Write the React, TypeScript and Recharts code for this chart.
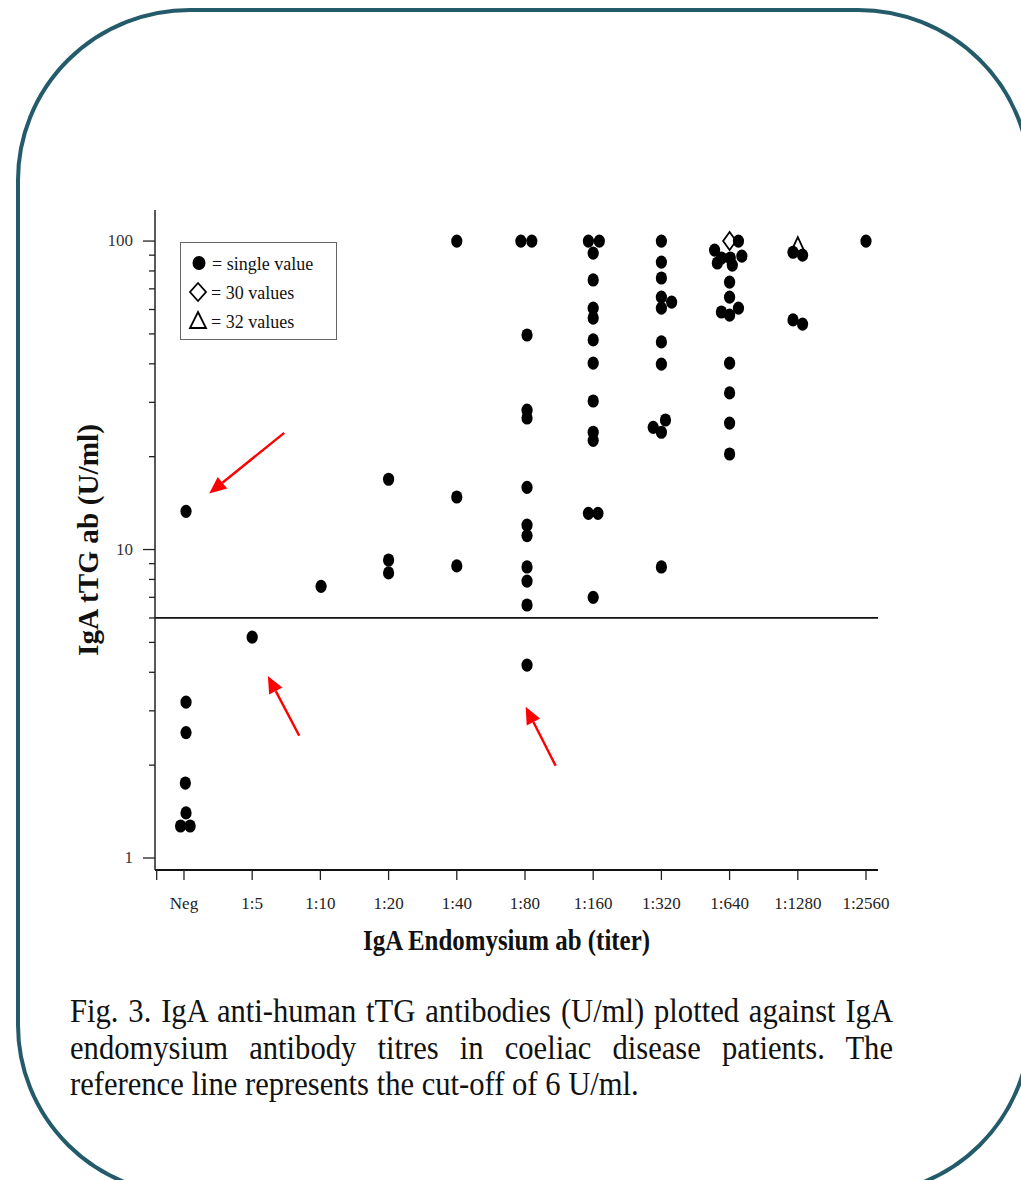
import React from "react";
import { ScatterChart, Scatter, XAxis, YAxis, ReferenceLine, Legend, Label } from "recharts";

const titers = ["Neg", "1:5", "1:10", "1:20", "1:40", "1:80", "1:160", "1:320", "1:640", "1:1280", "1:2560"];

// each entry: [tTG U/ml, small horizontal jitter in titer units]
const negVals = [[13.3, 0.03], [3.2, 0.03], [2.55, 0.03], [1.75, 0.02], [1.4, 0.03], [1.27, -0.05], [1.27, 0.09]];
const t5Vals = [[5.2, 0]];
const t10Vals = [[7.6, 0.01]];
const t20Vals = [[16.9, 0], [9.25, 0], [8.4, 0]];
const t40Vals = [[100, 0], [14.8, 0], [8.85, 0]];
const t80Vals = [[100, -0.06], [100, 0.1], [49.6, 0.03], [28.3, 0.03], [26.7, 0.03], [15.9, 0.03], [12.0, 0.03], [11.1, 0.03], [8.78, 0.03], [7.9, 0.03], [6.61, 0.03], [4.22, 0.03]];
const t160Vals = [[100, -0.07], [100, 0.09], [91.4, 0], [74.8, 0], [60.6, 0], [56.3, 0], [47.8, 0], [40.2, 0], [30.3, 0], [24.0, 0], [22.6, 0], [13.1, -0.07], [13.1, 0.07], [7.0, 0]];
const t320Vals = [[100, 0], [85.5, 0], [75.9, 0], [65.8, 0], [63.4, 0.15], [60.6, 0], [47.1, 0], [39.9, 0], [26.3, 0.06], [24.9, -0.12], [24.0, 0], [8.78, 0]];
const t640Vals = [[100, 0.13], [93.5, -0.22], [88.1, -0.12], [88.1, 0.01], [89.4, 0.18], [84.9, -0.18], [83.6, 0.04], [73.6, 0], [65.8, 0], [58.9, -0.12], [57.5, 0], [60.6, 0.13], [40.2, 0], [32.2, 0], [25.7, 0], [20.4, 0]];
const t1280Vals = [[92, -0.07], [90, 0.07], [55.5, -0.07], [53.8, 0.07]];
const t2560Vals = [[100, 0]];

const columns = [negVals, t5Vals, t10Vals, t20Vals, t40Vals, t80Vals, t160Vals, t320Vals, t640Vals, t1280Vals, t2560Vals];

// [titer index, value]
const diamondVals = [[8, 100]];
const triangleVals = [[9, 100]];

const cutoff = 6;
const yTicks = [1, 2, 3, 4, 5, 6, 7, 8, 9, 10, 20, 30, 40, 50, 60, 70, 80, 90, 100];
const yMajor = [1, 10, 100];
const xTicks = [-0.4, 0, 1, 2, 3, 4, 5, 6, 7, 8, 9, 10];

// red annotation arrows: [tail, head]
const arrows = [
  [{ x: 1.47, y: 23.9 }, { x: 0.37, y: 15.2 }],
  [{ x: 1.69, y: 2.49 }, { x: 1.23, y: 3.89 }],
  [{ x: 5.45, y: 1.99 }, { x: 5.01, y: 3.09 }],
];

const caption = [
  "Fig. 3. IgA anti-human tTG antibodies (U/ml) plotted against IgA",
  "endomysium antibody titres in coeliac disease patients. The",
  "reference line represents the cut-off of 6 U/ml.",
];

const dots = columns.flatMap((col, i) => col.map(([v, j]) => ({ x: i + j, y: v })));
const diamonds = diamondVals.map(([i, v]) => ({ x: i, y: v }));
const triangles = triangleVals.map(([i, v]) => ({ x: i, y: v }));

const serif = "'Liberation Serif', 'Times New Roman', serif";

const Dot = (p: any) => <ellipse cx={p.cx} cy={p.cy} rx={5.6} ry={6.6} fill="#000" />;

const Diamond = (p: any) => (
  <polygon
    points={`${p.cx},${p.cy - 9} ${p.cx + 6.5},${p.cy} ${p.cx},${p.cy + 9} ${p.cx - 6.5},${p.cy}`}
    fill="#fff"
    stroke="#000"
    strokeWidth={1.8}
  />
);

const Triangle = (p: any) => (
  <polygon
    points={`${p.cx},${p.cy - 4} ${p.cx + 6.5},${p.cy + 10} ${p.cx - 6.5},${p.cy + 10}`}
    fill="#fff"
    stroke="#000"
    strokeWidth={1.8}
  />
);

const Arrow = (p: any) => {
  const { x1, y1, x2, y2 } = p;
  const a = Math.atan2(y2 - y1, x2 - x1);
  const L = 17;
  const W = 7.5;
  const bx = x2 - L * Math.cos(a);
  const by = y2 - L * Math.sin(a);
  const pts = `${x2},${y2} ${bx + W * Math.sin(a)},${by - W * Math.cos(a)} ${bx - W * Math.sin(a)},${by + W * Math.cos(a)}`;
  return (
    <g>
      <line x1={x1} y1={y1} x2={bx} y2={by} stroke="#ff0000" strokeWidth={2.4} />
      <polygon points={pts} fill="#ff0000" />
    </g>
  );
};

const YTick = (p: any) => {
  const v = p.payload.value;
  const major = yMajor.includes(v);
  return (
    <g>
      <line x1={p.x - (major ? 12 : 6)} x2={p.x} y1={p.y} y2={p.y} stroke="#222" strokeWidth={1.3} />
      {major && (
        <text x={p.x - 22} y={p.y + 5} textAnchor="end" fontFamily={serif} fontSize={17} fill="#333">
          {v}
        </text>
      )}
    </g>
  );
};

const XTick = (p: any) => {
  const label = titers[p.payload.value];
  if (!label) return <g />;
  return (
    <text x={p.x} y={p.y + 29} textAnchor="middle" fontFamily={serif} fontSize={17} fill="#222">
      {label}
    </text>
  );
};

const LegendBox = () => (
  <svg width={158} height={99} style={{ display: "block" }}>
    <rect x={0.5} y={0.5} width={156} height={97} fill="#fff" stroke="#666" strokeWidth={1} />
    <ellipse cx={19} cy={21} rx={6.5} ry={7} fill="#000" />
    <text x={32} y={28} fontFamily={serif} fontSize={18} fill="#111">= single value</text>
    <polygon points="18,41 26,50 18,59 10,50" fill="#fff" stroke="#000" strokeWidth={1.8} />
    <text x={31} y={57} fontFamily={serif} fontSize={18} fill="#111">= 30 values</text>
    <polygon points="18,70 26,86 10,86" fill="#fff" stroke="#000" strokeWidth={1.8} />
    <text x={31} y={86} fontFamily={serif} fontSize={18} fill="#111">= 32 values</text>
  </svg>
);

const XTitle = (p: any) => {
  const vb = p.viewBox;
  return (
    <text x={vb.x + vb.width / 2 - 10} y={950} textAnchor="middle" fontFamily={serif} fontWeight="bold" fontSize={29} fill="#111" textLength={287} lengthAdjust="spacingAndGlyphs">
      IgA Endomysium ab (titer)
    </text>
  );
};

const YTitle = (p: any) => {
  const vb = p.viewBox;
  const cx = vb.x + 3;
  const cy = vb.y + vb.height / 2;
  return (
    <text x={cx} y={cy} transform={`rotate(-90, ${cx}, ${cy})`} textAnchor="middle" fontFamily={serif} fontWeight="bold" fontSize={29} fill="#111" textLength={232} lengthAdjust="spacingAndGlyphs">
      IgA tTG ab (U/ml)
    </text>
  );
};

export default function App() {
  return (
    <div style={{ position: "absolute", left: 0, top: 0, width: 1021, height: 1180, background: "#fff", overflow: "hidden" }}>
      <svg width={1021} height={1180} style={{ position: "absolute", left: 0, top: 0 }}>
        <rect x={18} y={10} width={1012} height={1185} rx={172} ry={170} fill="none" stroke="#245b6a" strokeWidth={4} />
      </svg>
      <div style={{ position: "absolute", left: 0, top: 0 }}>
        <ScatterChart width={1021} height={1180} margin={{ top: 210, right: 143, bottom: 250, left: 95 }}>
          <XAxis
            type="number"
            dataKey="x"
            domain={[-0.425, 10.176]}
            ticks={xTicks}
            tick={<XTick />}
            tickSize={10}
            tickMargin={0}
            height={60}
            interval={0}
            allowDataOverflow
            axisLine={{ stroke: "#111", strokeWidth: 2 }}
            tickLine={{ stroke: "#222", strokeWidth: 1.3 }}
          >
            <Label content={<XTitle />} />
          </XAxis>
          <YAxis
            type="number"
            dataKey="y"
            scale="log"
            domain={[0.9143, 126.1]}
            ticks={yTicks}
            tick={<YTick />}
            tickSize={0}
            tickMargin={0}
            tickLine={false}
            width={60}
            interval={0}
            allowDataOverflow
            axisLine={{ stroke: "#222", strokeWidth: 1.5 }}
          >
            <Label content={<YTitle />} />
          </YAxis>
          <ReferenceLine y={cutoff} stroke="#111" strokeWidth={1.8} />
          {arrows.map((seg, i) => (
            <ReferenceLine key={i} segment={seg} ifOverflow="visible" shape={<Arrow />} />
          ))}
          <Scatter data={diamonds} shape={<Diamond />} isAnimationActive={false} />
          <Scatter data={triangles} shape={<Triangle />} isAnimationActive={false} />
          <Scatter data={dots} shape={<Dot />} isAnimationActive={false} />
          <Legend
            layout="vertical"
            align="center"
            verticalAlign="middle"
            content={<LegendBox />}
            wrapperStyle={{ left: 180, top: 242, width: 158, height: 99 }}
          />
        </ScatterChart>
      </div>
      <div
        style={{
          position: "absolute",
          left: 70,
          top: 993,
          width: 823 / 0.9,
          transform: "scaleX(0.9)",
          transformOrigin: "left top",
          fontFamily: serif,
          fontSize: 34,
          lineHeight: "36.5px",
          color: "#111",
        }}
      >
        {caption.map((line, i) => (
          <div key={i} style={{ whiteSpace: "nowrap", textAlign: i < 2 ? "justify" : "left", textAlignLast: i < 2 ? "justify" : "left" }}>
            {line}
          </div>
        ))}
      </div>
    </div>
  );
}
